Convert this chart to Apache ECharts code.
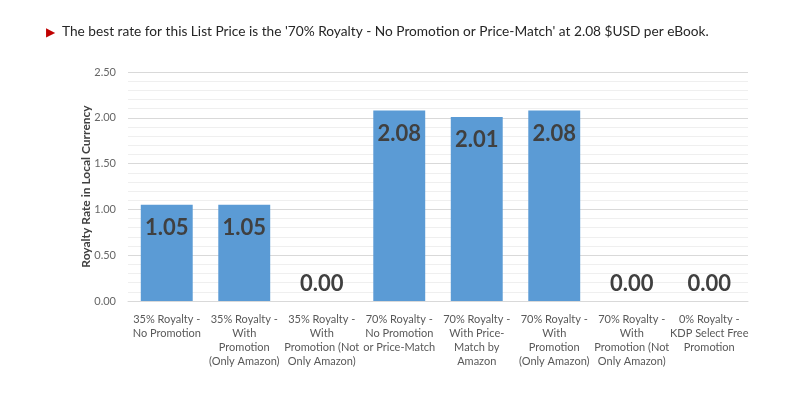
<!DOCTYPE html>
<html>
<head>
<meta charset="utf-8">
<script src="https://cdn.jsdelivr.net/npm/echarts@6/dist/echarts.min.js"></script>
<style>
  html, body { margin: 0; padding: 0; background: #fff; }
  #main { width: 800px; height: 399px; }
</style>
</head>
<body>
<div id="main"></div>
<script>
  var categories = [
    '35% Royalty -\nNo Promotion',
    '35% Royalty -\nWith\nPromotion\n(Only Amazon)',
    '35% Royalty -\nWith\nPromotion (Not\nOnly Amazon)',
    '70% Royalty -\nNo Promotion\nor Price-Match',
    '70% Royalty -\nWith Price-\nMatch by\nAmazon',
    '70% Royalty -\nWith\nPromotion\n(Only Amazon)',
    '70% Royalty -\nWith\nPromotion (Not\nOnly Amazon)',
    '0% Royalty -\nKDP Select Free\nPromotion'
  ];
  var rates = [1.05, 1.05, 0.00, 2.08, 2.01, 2.08, 0.00, 0.00];
  var yTicks = { min: 0, max: 2.5, interval: 0.5 };

  var font = 'Lato, "Open Sans", sans-serif';
  var chart = echarts.init(document.getElementById('main'));

  var barData = rates.map(function (v) {
    return {
      value: v,
      label: v > 0.5
        ? { position: 'insideTop', distance: 12 }
        : { position: 'top', distance: 6 }
    };
  });

  chart.setOption({
    animation: false,
    title: {
      text: '{tri|▶}  The best rate for this List Price is the \'70% Royalty - No Promotion or Price-Match\' at 2.08 $USD per eBook.',
      left: 41,
      top: 20,
      textStyle: {
        fontFamily: font,
        fontSize: 13.7,
        fontWeight: 'normal',
        color: '#262626',
        rich: {
          tri: { color: '#c00000', fontSize: 12 }
        }
      }
    },
    grid: { left: 128, right: 52, top: 72, bottom: 98 },
    xAxis: {
      type: 'category',
      data: categories,
      axisTick: { show: false },
      axisLine: { lineStyle: { color: '#d9d9d9' } },
      axisLabel: {
        interval: 0,
        margin: 11,
        color: '#595959',
        fontFamily: font,
        fontSize: 11,
        lineHeight: 14
      }
    },
    yAxis: {
      type: 'value',
      min: yTicks.min,
      max: yTicks.max,
      interval: yTicks.interval,
      name: 'Royalty Rate in Local Currency',
      nameLocation: 'middle',
      nameGap: 36,
      nameMoveOverlap: false,
      nameTextStyle: {
        fontFamily: font,
        fontSize: 12,
        fontWeight: 'bold',
        color: '#404040'
      },
      axisLine: { show: false },
      axisTick: { show: false },
      axisLabel: {
        color: '#666666',
        fontFamily: font,
        fontSize: 11,
        margin: 12,
        formatter: function (v) { return v.toFixed(2); }
      },
      splitLine: { lineStyle: { color: '#d9d9d9' } },
      minorTick: { show: false, splitNumber: 5 },
      minorSplitLine: { show: true, lineStyle: { color: '#efefef' } }
    },
    series: [{
      type: 'bar',
      data: barData,
      barWidth: '67%',
      itemStyle: { color: '#5b9bd5' },
      label: {
        show: true,
        fontFamily: font,
        fontSize: 22,
        fontWeight: 'bold',
        color: '#404040',
        formatter: function (p) { return p.value.toFixed(2); }
      }
    }]
  });
</script>
</body>
</html>
